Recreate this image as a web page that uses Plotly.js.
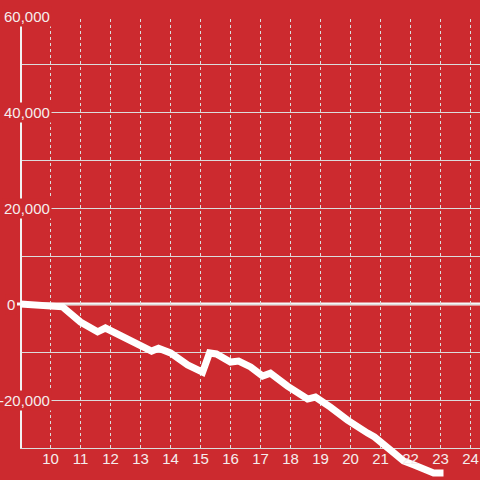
<!DOCTYPE html>
<html>
<head>
<meta charset="utf-8">
<script src="https://cdn.plot.ly/plotly-3.0.1.min.js"></script>
<style>html,body{margin:0;padding:0;background:#cc2a2f;}#chart{width:480px;height:480px;}</style>
</head>
<body>
<div id="chart"></div>
<script>
// Data
const xValues = [9.0, 9.5, 10.0, 10.4, 11.0, 11.57, 11.83, 12.1, 12.57, 13.0, 13.37, 13.6, 14.0, 14.57, 15.07, 15.3, 15.53, 16.0, 16.27, 16.67, 17.07, 17.33, 17.9, 18.57, 18.83, 19.33, 19.9, 20.57, 20.8, 21.33, 21.77, 22.1, 22.77, 23.1];
const yValues = [0, -100, -300, -600, -3750, -5800, -5000, -5800, -7500, -8500, -9800, -9200, -10200, -12700, -14200, -10200, -10400, -12100, -11900, -13100, -15000, -14400, -17100, -19800, -19400, -21500, -24200, -26900, -27700, -30400, -32700, -33500, -35200, -35200];
const xTickVals = [10, 11, 12, 13, 14, 15, 16, 17, 18, 19, 20, 21, 22, 23, 24];
const xTickText = ['10', '11', '12', '13', '14', '15', '16', '17', '18', '19', '20', '21', '22', '23', '24'];
const yTickVals = [-20000, 0, 20000, 40000, 60000];
const yTickText = ['-20,000', '0', '20,000', '40,000', '60,000'];

const BG = '#cc2a2f';
const TXT = '#f5eded';
const GRID = '#dcdcdc';
const plotLeft = 20, plotWidth = 460;
const FONT = 'Liberation Sans, Arial, sans-serif';

const shapes = [];
// vertical dotted gridlines (stop at the bottom axis line)
xTickVals.forEach(v => shapes.push({
  type: 'line', xref: 'x', yref: 'y', x0: v, x1: v, y0: -30000, y1: 60000,
  line: {color: GRID, width: 1, dash: '3px,3px'}, layer: 'below'
}));
// y axis line
shapes.push({type: 'line', xref: 'x', yref: 'y', x0: 9, x1: 9, y0: -30000, y1: 60000,
  line: {color: '#f2f2f2', width: 3}, layer: 'between'});
// zero line
shapes.push({type: 'line', xref: 'paper', yref: 'y', x0: -3 / plotWidth, x1: 1, y0: 0, y1: 0,
  line: {color: '#f7f7f7', width: 3}, layer: 'between'});

const annotations = yTickVals.map((v, i) => ({
  xref: 'paper', yref: 'y',
  x: v === 0 ? (17 - plotLeft) / plotWidth : (52 - plotLeft) / plotWidth,
  y: v, text: yTickText[i], showarrow: false, xanchor: 'right', yanchor: 'middle',
  bgcolor: BG, borderpad: 1,
  font: {family: FONT, size: 15, color: TXT}
}));

const trace = {
  x: xValues, y: yValues, type: 'scatter', mode: 'lines',
  line: {color: '#ffffff', width: 7},
  hoverinfo: 'skip'
};

const layout = {
  width: 480, height: 480,
  margin: {l: 20, r: 0, t: 16, b: 0, pad: 0},
  paper_bgcolor: BG, plot_bgcolor: BG,
  showlegend: false,
  xaxis: {
    range: [9 - 1 / 60, 24 + 1 / 3 - 1 / 60], tickvals: xTickVals, ticktext: xTickText,
    showgrid: false, zeroline: false, showline: false, ticks: '',
    anchor: 'free', position: 32 / 464,
    tickfont: {family: FONT, size: 15, color: TXT},
    fixedrange: true
  },
  yaxis: {
    range: [-36667, 60000], tick0: 0, dtick: 10000,
    showgrid: true, gridcolor: GRID, gridwidth: 1,
    showticklabels: false, zeroline: false, showline: false, ticks: '',
    fixedrange: true
  },
  shapes: shapes,
  annotations: annotations
};

Plotly.newPlot('chart', [trace], layout, {displayModeBar: false, staticPlot: true});
</script>
</body>
</html>
